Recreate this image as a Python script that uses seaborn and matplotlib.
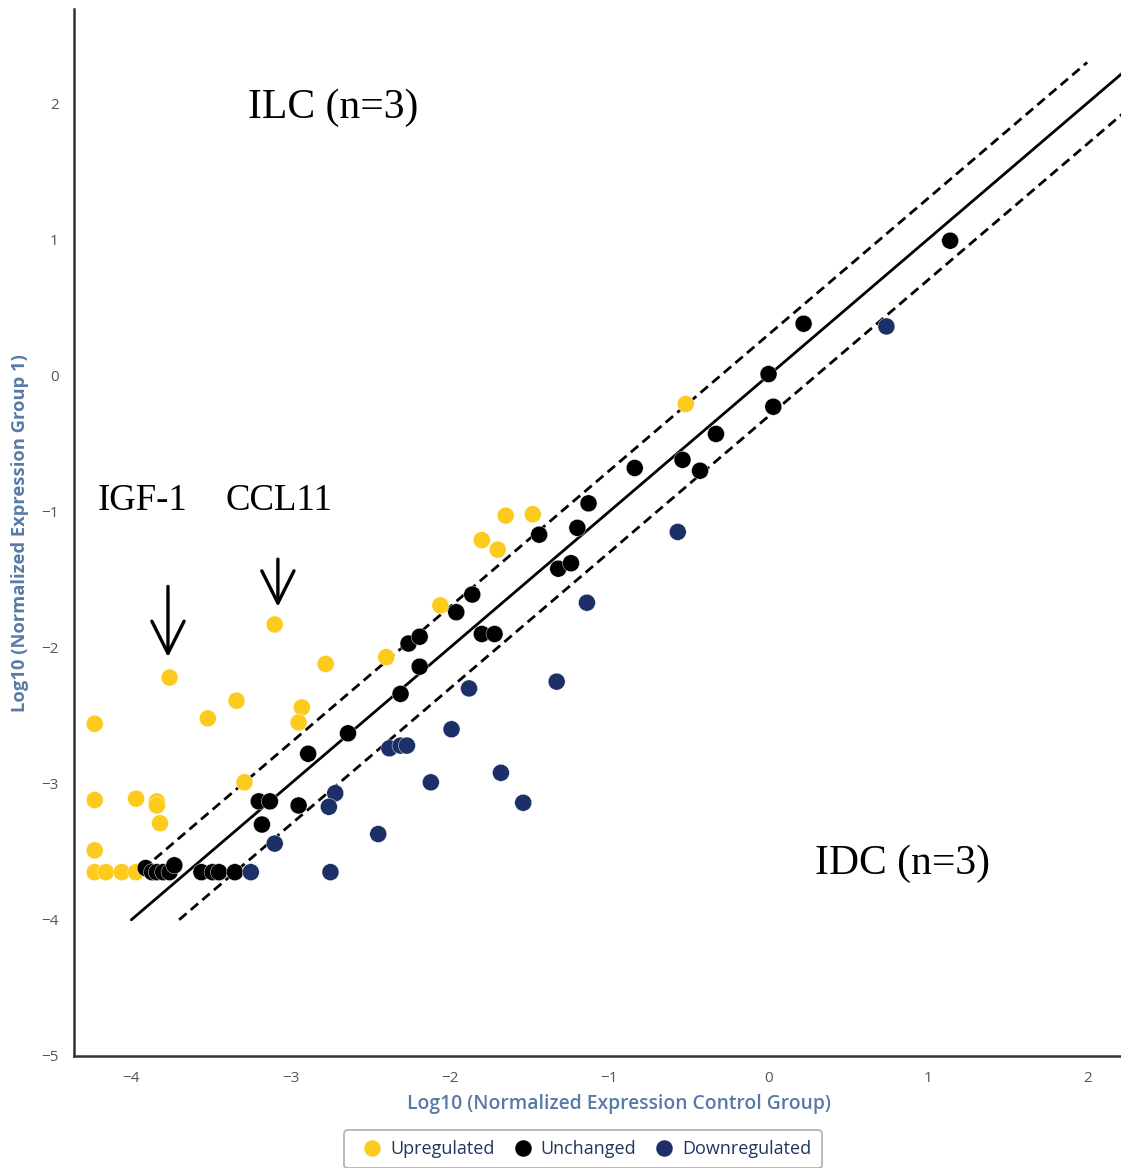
import numpy as np
import pandas as pd
import seaborn as sns
from matplotlib import pyplot as plt

# log10 expression, control group (x) vs group 1 (y)
up_x = [-4.23, -4.23, -4.23, -4.23, -4.16, -4.06, -3.97, -3.97, -3.84, -3.84,
        -3.82, -3.76, -3.10, -3.52, -3.34, -2.78, -2.93, -2.95, -3.29, -2.40,
        -2.06, -1.80, -1.70, -1.65, -1.48, -0.52]
up_y = [-2.56, -3.12, -3.49, -3.65, -3.65, -3.65, -3.65, -3.11, -3.13, -3.16,
        -3.29, -2.22, -1.83, -2.52, -2.39, -2.12, -2.44, -2.55, -2.99, -2.07,
        -1.69, -1.21, -1.28, -1.03, -1.02, -0.21]

unch_x = [-3.91, -3.87, -3.84, -3.80, -3.76, -3.73, -3.56, -3.49, -3.45, -3.35,
          -3.20, -3.13, -3.18, -2.95, -2.89, -2.64, -2.31, -2.19, -2.26, -2.19,
          -1.96, -1.86, -1.80, -1.72, -1.44, -1.32, -1.24, -1.20, -1.13, -0.84,
          -0.54, -0.43, -0.33, 0.00, 0.03, 0.22, 1.14]
unch_y = [-3.62, -3.65, -3.65, -3.65, -3.65, -3.60, -3.65, -3.65, -3.65, -3.65,
          -3.13, -3.13, -3.30, -3.16, -2.78, -2.63, -2.34, -2.14, -1.97, -1.92,
          -1.74, -1.61, -1.90, -1.90, -1.17, -1.42, -1.38, -1.12, -0.94, -0.68,
          -0.62, -0.70, -0.43, 0.01, -0.23, 0.38, 0.99]

down_x = [-3.25, -3.10, -2.72, -2.76, -2.75, -2.45, -2.38, -2.31, -2.27, -2.12,
          -1.99, -1.88, -1.68, -1.54, -1.33, -1.14, -0.57, 0.74]
down_y = [-3.65, -3.44, -3.07, -3.17, -3.65, -3.37, -2.74, -2.72, -2.72, -2.99,
          -2.60, -2.30, -2.92, -3.14, -2.25, -1.67, -1.15, 0.36]

categories = ['Upregulated', 'Unchanged', 'Downregulated']
colors = ['#fdca1e', '#000000', '#1c2f66']

# identity line and 2-fold boundaries
mid_x, mid_y = [-4.0, 2.4], [-4.0, 2.4]
upper_x, upper_y = [-4.0, 2.0], [-3.7, 2.3]
lower_x, lower_y = [-3.7, 2.4], [-4.0, 2.1]

df = pd.DataFrame({
    'x': up_x + unch_x + down_x,
    'y': up_y + unch_y + down_y,
    'status': ['Upregulated'] * len(up_x) + ['Unchanged'] * len(unch_x)
              + ['Downregulated'] * len(down_x),
})

sns.set_style('white')
plt.rcParams['font.family'] = ['Open Sans', 'DejaVu Sans']

fig = plt.figure(figsize=(11.21, 11.68), dpi=100)
# plot area runs past the right edge of the image, as in the original screenshot
ax = fig.add_axes([0.066, 0.096, 0.972, 0.896])

sns.lineplot(x=mid_x, y=mid_y, ax=ax, color='black', linewidth=2)
sns.lineplot(x=upper_x, y=upper_y, ax=ax, color='black', linewidth=2, linestyle=(0, (3.5, 2)))
sns.lineplot(x=lower_x, y=lower_y, ax=ax, color='black', linewidth=2, linestyle=(0, (3.5, 2)))

sns.scatterplot(data=df, x='x', y='y', hue='status', hue_order=categories,
                palette=colors, s=150, edgecolor='white', linewidth=0.3,
                ax=ax, zorder=3)

ax.set_xlim(-4.36, 2.48)
ax.set_ylim(-5, 2.69)
ax.set_xticks(np.arange(-4, 3))
ax.set_yticks(np.arange(-5, 3))

for side in ['top', 'right']:
    ax.spines[side].set_visible(False)
for side in ['left', 'bottom']:
    ax.spines[side].set_color('#333333')
    ax.spines[side].set_linewidth(1.8)
ax.tick_params(axis='both', direction='out', length=5, width=1, color='#c5d6e8',
               labelsize=11, labelcolor='#555555', pad=6)

label_color = '#587aa6'
ax.set_xlabel('Log10 (Normalized Expression Control Group)', fontsize=13.9,
              fontweight='semibold', color=label_color, labelpad=6)
ax.set_ylabel('Log10 (Normalized Expression Group 1)', fontsize=13.2,
              fontweight='bold', color=label_color, labelpad=9)

serif = ['Liberation Serif', 'DejaVu Serif']
ax.text(-2.73, 1.97, 'ILC (n=3)', family=serif, fontsize=30, color='black',
        ha='center', va='center')
ax.text(0.84, -3.59, 'IDC (n=3)', family=serif, fontsize=30, color='black',
        ha='center', va='center')
ax.text(-3.93, -0.92, 'IGF-1', family=serif, fontsize=26.5, color='black',
        ha='center', va='center')
ax.text(-3.07, -0.92, 'CCL11', family=serif, fontsize=26.5, color='black',
        ha='center', va='center')

arrow = dict(arrowstyle='->,head_length=0.58,head_width=0.29', color='black',
             lw=2.4, mutation_scale=40, shrinkA=0, shrinkB=0)
ax.annotate('', xy=(-3.77, -2.07), xytext=(-3.77, -1.55), arrowprops=arrow)
ax.annotate('', xy=(-3.08, -1.70), xytext=(-3.08, -1.35), arrowprops=arrow)

handles, labels = ax.get_legend_handles_labels()
ax.get_legend().remove()
leg = fig.legend(handles, labels, loc='upper center', bbox_to_anchor=(0.52, 0.04),
                 ncol=3, frameon=True, fontsize=13, handletextpad=0.0,
                 columnspacing=0.55, borderpad=0.55, markerscale=1.0)
leg.get_frame().set_edgecolor('#999999')
leg.get_frame().set_linewidth(1.2)
for t in leg.get_texts():
    t.set_color('#1f3660')

fig.savefig('out.png', dpi=100)
